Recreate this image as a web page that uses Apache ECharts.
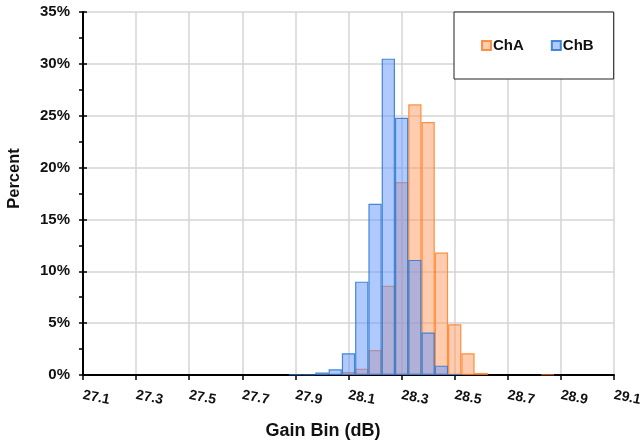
<!DOCTYPE html>
<html>
<head>
<meta charset="utf-8">
<script src="https://cdn.jsdelivr.net/npm/echarts@6/dist/echarts.min.js"></script>
<style>
    html, body { margin: 0; padding: 0; background: #fff; }
    #chart { width: 644px; height: 442px; }
</style>
</head>
<body>
<div id="chart"></div>
<script>
// 每个区间中心值（dB），区间宽 0.05
const binsA = [28.1, 28.15, 28.2, 28.25, 28.3, 28.35, 28.4, 28.45, 28.5, 28.55, 28.6, 28.85];
const pctA = [0.3, 0.6, 2.4, 8.6, 18.6, 26.1, 24.4, 11.8, 4.9, 2.1, 0.2, 0.05];

const binsB = [27.9, 27.95, 28.0, 28.05, 28.1, 28.15, 28.2, 28.25, 28.3, 28.35, 28.4, 28.45, 28.5];
const pctB = [0.05, 0.05, 0.25, 0.55, 2.1, 9.0, 16.5, 30.5, 24.8, 11.1, 4.1, 0.9, 0.1];

const seriesNames = ["ChA", "ChB"];

const pair = (xs, ys) => xs.map((x, i) => [x, ys[i]]);

const font = "Liberation Sans, Arial, sans-serif";

const chart = echarts.init(document.getElementById("chart"));

const option = {
    animation: false,
    backgroundColor: "#fff",
    grid: {
        left: 83,
        right: 30,
        top: 12,
        bottom: 67,
        outerBoundsMode: "none"
    },
    legend: {
        left: 454,
        top: 12,
        data: seriesNames,
        icon: "rect",
        itemWidth: 9,
        itemHeight: 9,
        itemGap: 27,
        padding: [25, 20, 25, 27],
        backgroundColor: "#fff",
        borderColor: "#222",
        borderWidth: 1,
        textStyle: {
            fontFamily: font,
            fontWeight: "bold",
            fontSize: 15,
            lineHeight: 17,
            color: "#111",
            padding: [0, 0, 0, -3]
        }
    },
    xAxis: {
        type: "value",
        min: 27.1,
        max: 29.1,
        interval: 0.2,
        name: "Gain Bin (dB)",
        nameLocation: "middle",
        nameGap: 47,
        nameTextStyle: {
            fontFamily: font,
            fontWeight: "bold",
            fontSize: 18,
            color: "#111",
            padding: [0, 51, 0, 0]
        },
        axisLine: { show: true, onZero: false, lineStyle: { color: "#000", width: 2 } },
        axisTick: { show: true, length: 5, lineStyle: { color: "#000", width: 1.5 } },
        axisLabel: {
            rotate: -11,
            margin: 20,
            fontFamily: font,
            fontWeight: "bold",
            fontSize: 14,
            color: "#111",
            formatter: v => v.toFixed(1)
        },
        splitLine: { show: true, lineStyle: { color: "#d4d4d4", width: 1.5 } }
    },
    yAxis: [
        {
            type: "value",
            min: 0,
            max: 35,
            interval: 5,
            name: "Percent",
            nameLocation: "middle",
            nameGap: 60,
            nameTextStyle: {
                fontFamily: font,
                fontWeight: "bold",
                fontSize: 16.5,
                color: "#111",
                padding: [0, 0, 0, 30]
            },
            axisLine: { show: true, lineStyle: { color: "#000", width: 2 } },
            axisTick: { show: true, length: 4, lineStyle: { color: "#000", width: 1.5 } },
            minorTick: { show: true, splitNumber: 2, length: 4, lineStyle: { color: "#000", width: 1.5 } },
            axisLabel: {
                margin: 13,
                fontFamily: font,
                fontWeight: "bold",
                fontSize: 15,
                color: "#111",
                formatter: "{value}%"
            },
            splitLine: { show: true, lineStyle: { color: "#d4d4d4", width: 1.5 } }
        },
        {
            // 内侧刻度（与左轴重叠）
            type: "value",
            position: "left",
            min: 0,
            max: 35,
            interval: 5,
            axisLine: { show: false },
            axisTick: { show: true, inside: true, length: 4, lineStyle: { color: "#000", width: 1.5 } },
            minorTick: { show: true, splitNumber: 2, length: -4, lineStyle: { color: "#000", width: 1.5 } },
            axisLabel: { show: false },
            splitLine: { show: false }
        }
    ],
    series: [
        {
            name: seriesNames[0],
            type: "bar",
            barWidth: 13.3,
            barGap: "-100%",
            itemStyle: {
                color: "rgba(255,153,97,0.5)",
                borderColor: "rgba(255,128,40,0.85)",
                borderWidth: 1.2
            },
            data: pair(binsA, pctA)
        },
        {
            name: seriesNames[1],
            type: "bar",
            barWidth: 13.3,
            barGap: "-100%",
            itemStyle: {
                color: "rgba(98,147,255,0.5)",
                borderColor: "rgba(50,125,210,0.9)",
                borderWidth: 1.2
            },
            data: pair(binsB, pctB)
        }
    ]
};

chart.setOption(option);
</script>
</body>
</html>
